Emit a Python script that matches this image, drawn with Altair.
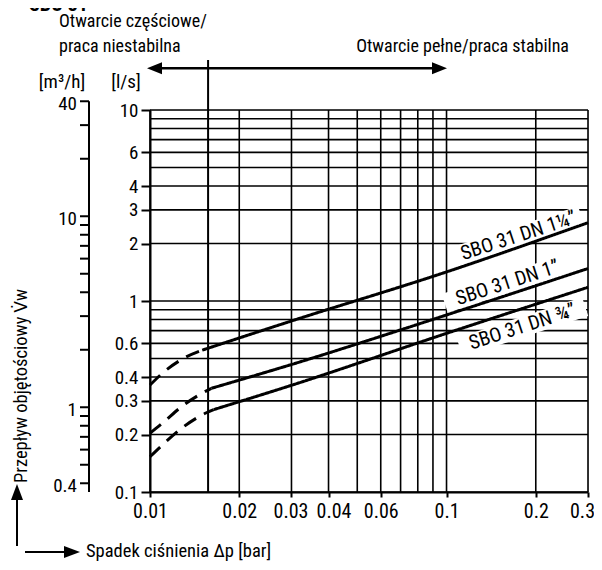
import altair as alt
import pandas as pd

FONT = "'Liberation Sans Narrow', 'Roboto Condensed', 'DejaVu Sans Condensed', 'Arial Narrow', sans-serif"

# ---- data ----
x_ticks = [0.01, 0.02, 0.03, 0.04, 0.06, 0.1, 0.2, 0.3]
y_ticks = [0.1, 0.2, 0.3, 0.4, 0.6, 1, 2, 3, 4, 6, 10]
grid_x = [0.01, 0.02, 0.03, 0.04, 0.05, 0.06, 0.07, 0.08, 0.09, 0.1, 0.2, 0.3]
grid_y = [0.1, 0.2, 0.3, 0.4, 0.5, 0.6, 0.7, 0.8, 0.9, 1, 2, 3, 4, 5, 6, 7, 8, 9, 10]
m3h_ticks = [0.4, 0.5, 0.6, 0.7, 0.8, 0.9, 1, 2, 3, 4, 5, 6, 7, 8, 9, 10, 20, 30, 40]
m3h_labels = [0.4, 1, 10, 40]
boundary_dp = 0.0157

series = ["SBO 31 DN 1¼”", "SBO 31 DN 1”", "SBO 31 DN ¾”"]
dash_dp = [
    [0.01, 0.011, 0.0131, 0.015],
    [0.01, 0.011, 0.0129, 0.0153, 0.0161],
    [0.01, 0.011, 0.0128, 0.0155, 0.0164],
]
dash_q = [
    [0.363, 0.418, 0.505, 0.553],
    [0.203, 0.229, 0.283, 0.335, 0.349],
    [0.153, 0.176, 0.216, 0.260, 0.270],
]
solid_dp = [
    [0.015, 0.03, 0.1, 0.3],
    [0.0161, 0.03, 0.1, 0.3],
    [0.0164, 0.03, 0.1, 0.3],
]
solid_q = [
    [0.553, 0.786, 1.42, 2.57],
    [0.349, 0.465, 0.845, 1.48],
    [0.270, 0.362, 0.677, 1.18],
]
label_dp = [0.1748, 0.1605, 0.1803]
label_q = [2.19, 1.242, 0.731]

rows = []
for i, s in enumerate(series):
    for d, q in zip(dash_dp[i], dash_q[i]):
        rows.append({"series": s, "seg": "dashed", "dp": d, "q": q})
    for d, q in zip(solid_dp[i], solid_q[i]):
        rows.append({"series": s, "seg": "solid", "dp": d, "q": q})
curves = pd.DataFrame(rows)
labels = pd.DataFrame({"name": series, "dp": label_dp, "q": label_q})

W, H = 438, 382
xs = alt.Scale(type="log", domain=[0.01, 0.3], nice=False)
ys = alt.Scale(type="log", domain=[0.1, 10], nice=False)

x_label_offset = (
    "datum.value > 0.25 ? -6 : (abs(datum.value - 0.04) < 0.001 ? 5 : "
    "(abs(datum.value - 0.03) < 0.001 ? -1 : 0))"
)

# ---- axes ----
axes = alt.Chart(pd.DataFrame({"dp": [0.01, 0.3], "q": [0.1, 10]})).mark_point(opacity=0).encode(
    x=alt.X("dp:Q", scale=xs, axis=alt.Axis(values=x_ticks, format="~g", title=None, grid=False,
            tickSize=5, tickWidth=2, domainWidth=2, domainColor="black", tickColor="black",
            labelFontSize=20, labelColor="black", labelFont=FONT, labelPadding=4,
            labelOverlap=False, labelFlush=False,
            labelOffset={"expr": x_label_offset})),
    y=alt.Y("q:Q", scale=ys, axis=alt.Axis(values=y_ticks, format="~g", title=None, grid=False,
            tickSize=9, tickWidth=2, domainWidth=2, domainColor="black", tickColor="black",
            labelFontSize=19, labelColor="black", labelFont=FONT, labelPadding=3,
            labelOverlap=False, labelFlush=False)),
)

vgrid = alt.Chart(pd.DataFrame({"v": grid_x})).mark_rule(color="black", strokeWidth=1.6).encode(
    x=alt.X("v:Q", scale=xs, axis=None))
hgrid = alt.Chart(pd.DataFrame({"v": grid_y})).mark_rule(color="black", strokeWidth=1.6).encode(
    y=alt.Y("v:Q", scale=ys, axis=None))

boundary = alt.Chart(pd.DataFrame({"v": [boundary_dp]})).mark_rule(color="black", strokeWidth=2).encode(
    x=alt.X("v:Q", scale=xs, axis=None), y=alt.value(-50), y2=alt.value(H))

boxes = alt.Chart(labels).mark_point(
    shape="M-1,-0.15 L1,-0.15 L1,0.15 L-1,0.15 Z", size=17400, filled=True, color="white",
    opacity=1, angle=342).encode(
    x=alt.X("dp:Q", scale=xs, axis=None), y=alt.Y("q:Q", scale=ys, axis=None))

lines = alt.Chart(curves).mark_line(color="black", strokeWidth=3, interpolate="monotone",
                                     strokeCap="butt").encode(
    x=alt.X("dp:Q", scale=xs, axis=None),
    y=alt.Y("q:Q", scale=ys, axis=None),
    detail="series:N",
    strokeDash=alt.StrokeDash("seg:N", scale=alt.Scale(domain=["solid", "dashed"],
                                                       range=[[1, 0], [14, 9]]), legend=None),
)

label_text = alt.Chart(labels).mark_text(font=FONT, fontSize=20, angle=342, align="center",
                                         baseline="middle", color="black").encode(
    x=alt.X("dp:Q", scale=xs, axis=None), y=alt.Y("q:Q", scale=ys, axis=None), text="name:N")

# secondary axis in m3/h drawn through the l/s scale
m3 = alt.Chart(pd.DataFrame({"m": m3h_ticks})).transform_calculate(ls="datum.m / 3.6")
m3_ticks = m3.mark_rule(color="black", strokeWidth=2).encode(
    y=alt.Y("ls:Q", scale=ys, axis=None), x=alt.value(-70), x2=alt.value(-61))
m3_line = alt.Chart(pd.DataFrame({"m": [max(m3h_ticks)]})).transform_calculate(
    top="datum.m / 3.6", bot="0.1").mark_rule(color="black", strokeWidth=2).encode(
    y=alt.Y("top:Q", scale=ys, axis=None), y2="bot:Q", x=alt.value(-61))
m3_lab = alt.Chart(pd.DataFrame({"m": m3h_labels})).transform_calculate(
    ls="datum.m / 3.6").mark_text(font=FONT, fontSize=19, align="right", baseline="middle",
                                  color="black", dy=3).encode(
    y=alt.Y("ls:Q", scale=ys, axis=None), x=alt.value(-73), text=alt.Text("m:Q", format="~g"))


def txt(t, x, y, size=18, align="left", baseline="alphabetic", angle=0, weight="normal"):
    kw = dict(font=FONT, fontSize=size, align=align, baseline=baseline, color="black",
              fontWeight=weight)
    if angle:
        kw["angle"] = angle
    return alt.Chart(pd.DataFrame({"t": [t]})).mark_text(**kw).encode(
        text="t:N", x=alt.value(x), y=alt.value(y))


def seg(x1, y1, x2, y2, w=2.5):
    return alt.Chart(pd.DataFrame({"a": [0]})).mark_rule(color="black", strokeWidth=w).encode(
        x=alt.value(x1), y=alt.value(y1), x2=alt.value(x2), y2=alt.value(y2))


def head(x, y, shape, size=256):
    return alt.Chart(pd.DataFrame({"a": [0]})).mark_point(shape=shape, size=size, filled=True,
                                                          color="black", opacity=1).encode(
        x=alt.value(x), y=alt.value(y))


annot = [
    txt("SBO 31", -121, -99, size=20, weight="bold"),
    txt("Otwarcie częściowe/", -91, -83),
    txt("praca niestabilna", -91, -58),
    txt("Otwarcie pełne/praca stabilna", 419, -58, align="right"),
    seg(4, -41.7, 290, -41.7),
    head(4.5, -41.7, "M-1,0 L1,-0.8 L1,0.8 Z", 225),
    head(289.5, -41.7, "M1,0 L-1,-0.8 L-1,0.8 Z", 225),
    txt("[m³/h]", -88, -22, size=19, align="center"),
    txt("[l/s]", -24, -22, size=19, align="center"),
    txt("Przepływ objętościowy V̇w", -129, 276, size=18.5, align="center",
        baseline="middle", angle=270),
    seg(-133, 382, -133, 436, 2),
    head(-133, 382, "M0,-1 L0.75,1 L-0.75,1 Z", 256),
    seg(-125, 442, -78, 442, 2),
    head(-78, 442, "M1,0 L-1,-0.75 L-1,0.75 Z", 256),
    txt("Spadek ciśnienia Δp [bar]", -64, 441, size=18.5, baseline="middle"),
]

chart = alt.layer(
    axes, vgrid, hgrid, boundary, boxes, lines, label_text,
    m3_ticks, m3_line, m3_lab, *annot
).resolve_axis(x="independent", y="independent").properties(
    width=W, height=H,
    autosize=alt.AutoSizeParams(type="none"),
    padding={"left": 142, "top": 102, "right": 6, "bottom": 70},
).configure_view(stroke=None).configure(font=FONT)

chart.save("out.html", embed_options={"renderer": "svg", "actions": False})
